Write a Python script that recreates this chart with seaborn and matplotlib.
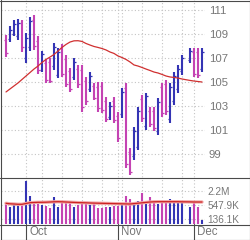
import numpy as np
import matplotlib
matplotlib.use("Agg")
import matplotlib.pyplot as plt
import seaborn as sns
from matplotlib.lines import Line2D

sns.set_style("white")
plt.rcParams['font.family'] = ['Liberation Sans', 'DejaVu Sans']

nan = float('nan')
# daily OHLC (slot 45 is a holiday gap)
highs = [108.92, 109.67, 110.17, 110.25, 110.17, 109.08, 110.42, 110.58, 108.83, 107.58,
         106.92, 107.0, 108.25, 107.83, 108.17, 107.25, 106.17, 107.0, 106.42, 106.42,
         105.42, 105.83, 104.92, 105.0, 105.0, 103.75, 103.33, 103.75, 102.5, 104.5,
         104.92, 99.5, 101.25, 102.92, 103.92, 104.08, 102.92, 102.92, 103.67, 104.92,
         105.17, 104.92, 105.83, 106.42, 107.25, nan, 107.83, 107.83, 107.83, 107.83]
lows = [107.08, 108.33, 108.83, 108.5, 107.5, 106.58, 107.58, 107.67, 105.67, 105.83,
        104.92, 104.92, 106.0, 105.33, 105.42, 104.58, 104.17, 105.17, 104.5, 102.5,
        103.08, 104.17, 103.5, 102.5, 102.42, 101.67, 101.83, 101.58, 100.0, 102.0,
        97.83, 97.25, 98.5, 99.33, 101.67, 101.0, 101.25, 100.92, 100.58, 102.08,
        102.25, 101.58, 103.08, 104.08, 105.58, nan, 106.58, 105.42, 105.33, 105.83]
opens = [108.5, 108.6, 109.0, 108.8, 109.9, 107.0, 107.9, 110.2, 108.4, 106.0,
         106.6, 106.7, 106.3, 105.6, 107.8, 106.9, 105.9, 105.4, 106.1, 106.0,
         105.1, 104.4, 104.7, 104.6, 104.7, 103.4, 102.1, 103.4, 102.2, 102.3,
         104.5, 99.2, 98.8, 99.6, 103.6, 101.3, 102.6, 102.6, 100.9, 104.6,
         104.8, 101.9, 103.4, 104.4, 105.9, nan, 106.8, 107.5, 107.5, 106.1]
closes = [107.4, 109.3, 109.8, 109.9, 107.9, 108.7, 110.1, 108.0, 106.0, 107.3,
          105.2, 105.1, 107.9, 107.5, 105.7, 104.8, 104.4, 106.7, 104.8, 102.9,
          103.4, 105.5, 103.7, 102.8, 102.7, 101.9, 103.0, 101.8, 100.3, 104.2,
          98.2, 97.5, 100.9, 102.6, 102.0, 103.8, 101.5, 101.2, 103.3, 102.4,
          102.6, 104.6, 105.5, 106.1, 107.0, nan, 107.6, 105.7, 105.6, 107.5]
price_ma = [104.17, 104.42, 104.67, 104.92, 105.21, 105.5, 105.79, 106.08, 106.33, 106.63,
            106.88, 107.08, 107.29, 107.58, 107.88, 108.13, 108.33, 108.43, 108.44, 108.38,
            108.21, 108.08, 107.96, 107.88, 107.79, 107.67, 107.5, 107.38, 107.17, 107.04,
            106.88, 106.67, 106.42, 106.33, 106.21, 106.08, 105.96, 105.83, 105.75, 105.63,
            105.5, 105.42, 105.38, 105.33, 105.25, nan, 105.13, 105.08, 105.04, 105.0]
volume_k = [765, 434, 548, 548, 548, 6210, 1404, 651, 606, 548,
            495, 417, 1269, 461, 651, 765, 847, 434, 548, 651,
            651, 548, 651, 392, 425, 461, 445, 505, 515, 651,
            1380, 1005, 606, 800, 1790, 821, 1230, 800, 595, 821,
            640, 960, 780, 640, 720, nan, 434, 680, 461, 120]
volume_ma_k = [651, 618, 606, 588, 588, 638, 691, 706, 720, 720,
               727, 742, 757, 765, 757, 742, 727, 713, 698, 691,
               684, 671, 664, 657, 651, 644, 638, 631, 625, 618,
               612, 606, 631, 657, 684, 713, 742, 757, 765, 765,
               765, 765, 765, 765, 757, nan, 750, 742, 742, 742]
price_ticks = [99, 101, 103, 105, 107, 109, 111]
volume_ticks = [136.1e3, 547.9e3, 2.2e6]
volume_tick_labels = ["136.1K", "547.9K", "2.2M"]
month_labels = ["Oct", "Nov", "Dec"]
month_starts = [5, 28, 47]
week_starts = [9, 14, 19, 24, 29, 34, 39, 44]

BLUE = '#3434b4'
MAG = '#c443b3'
GRID = '#c4c4c4'
FRAME = '#4a4a4a'
TXT = '#777777'

idx = np.arange(len(highs))
hi = np.array(highs); lo = np.array(lows); op = np.array(opens); cl = np.array(closes)
ok = ~np.isnan(hi)
cols = np.where(cl >= op, BLUE, MAG)
vol = np.array(volume_k) * 1e3
vma = np.array(volume_ma_k) * 1e3

W, H = 250, 240
fig = plt.figure(figsize=(W / 100, H / 100), dpi=100)
left, width = 1 / W, 204 / W
ax = fig.add_axes([left, (H - 177) / H, width, 177 / H])
axv = fig.add_axes([left, (H - 224) / H, width, 47 / H])
axs = fig.add_axes([left, 0, width, 16 / H])
xlim = (-1.25, 49.75)

gl = [m - 0.08 for m in month_starts] + week_starts
for a in (ax, axv):
    a.set_xlim(*xlim)
    for s in a.spines.values():
        s.set_visible(False)
    a.set_xticks([])
    for g in gl:
        a.axvline(g, color=GRID, lw=0.8, ls=(0, (1, 2)), zorder=0)

# price panel
ax.set_ylim(97.083, 111.833)
for t in price_ticks:
    ax.axhline(t, color=GRID, lw=0.8, ls=(0, (1, 2)), zorder=0)
ax.vlines(idx[ok], lo[ok], hi[ok], colors=cols[ok], lw=1.5, zorder=3)
ax.hlines(op[ok], idx[ok] - 0.6, idx[ok], colors=cols[ok], lw=0.9, zorder=3)
ax.hlines(cl[ok], idx[ok], idx[ok] + 0.6, colors=cols[ok], lw=0.9, zorder=3)
sns.lineplot(x=idx[ok], y=np.array(price_ma)[ok], ax=ax, color='#d03030', lw=0.9, zorder=4)
ax.yaxis.tick_right()
ax.set_yticks(price_ticks)
ax.set_yticklabels([str(t) for t in price_ticks])
ax.tick_params(axis='y', length=0, pad=2.6, labelsize=8.2, labelcolor=TXT)
ax.set_xlabel(''); ax.set_ylabel('')

# volume panel
vmin, vmax = 80.2e3, 9.31e6
axv.set_yscale('log')
axv.set_ylim(vmin, vmax)
for t in volume_ticks:
    axv.axhline(t, color=GRID, lw=0.8, ls=(0, (1, 2)), zorder=0)
axv.vlines(idx[ok], vmin, vol[ok], colors=cols[ok], lw=1.5, zorder=3)
sns.lineplot(x=idx[ok], y=vma[ok], ax=axv, color='#f2a8a8', lw=2.4, zorder=4)
sns.lineplot(x=idx[ok], y=vma[ok], ax=axv, color='#cc2222', lw=0.9, zorder=5)
axv.yaxis.tick_right()
axv.set_yticks(volume_ticks)
axv.set_yticklabels(volume_tick_labels)
axv.yaxis.set_minor_locator(matplotlib.ticker.NullLocator())
axv.tick_params(axis='y', length=0, pad=1.8, labelsize=7.2, labelcolor=TXT)
axv.set_xlabel(''); axv.set_ylabel('')

# month strip
axs.set_xlim(*xlim)
axs.set_ylim(0, 1)
axs.axis('off')
for m, lab in zip(month_starts, month_labels):
    axs.axvline(m - 0.08, color=FRAME, lw=0.8)
    axs.text(m + 0.75, 0.5, lab, ha='left', va='center', fontsize=8.3, color=TXT)

# frame lines
def hline(y):
    fig.add_artist(Line2D([0, 1], [1 - y / H, 1 - y / H], color=FRAME, lw=0.8))
def vline(x):
    fig.add_artist(Line2D([x / W, x / W], [0, 1], color=FRAME, lw=0.8))
hline(0.5); hline(177.5); hline(224.5); hline(239.5)
vline(0.5); vline(249.5)

fig.savefig("out.png", dpi=100)
